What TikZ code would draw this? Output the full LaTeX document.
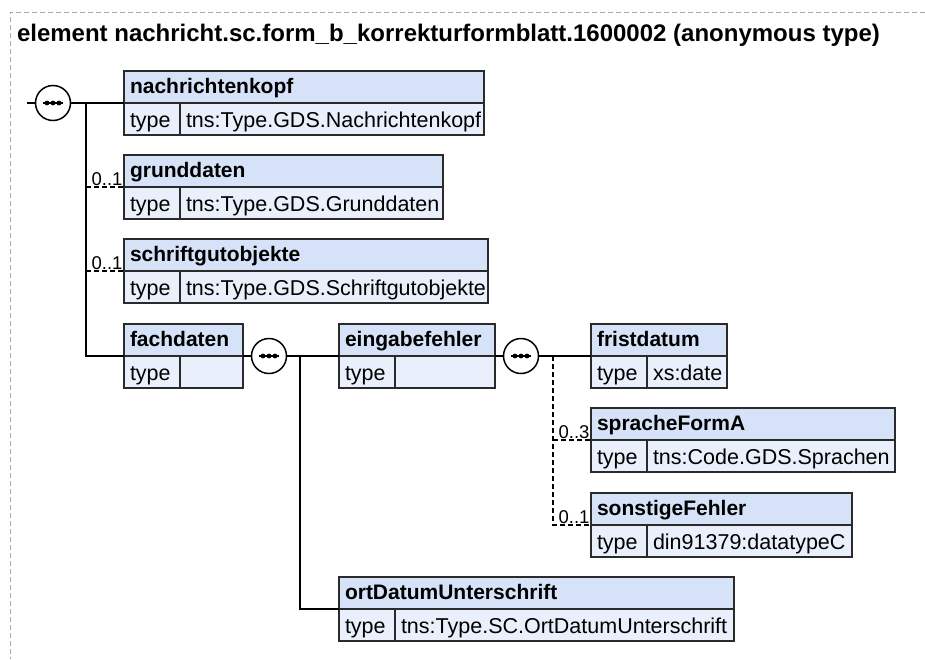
\documentclass[tikz,border=0pt]{standalone}
\usepackage{fontspec}
\setmainfont{Liberation Sans}
\usetikzlibrary{positioning}
\definecolor{hdrfill}{HTML}{D6E2F7}
\definecolor{rowfill}{HTML}{EAF0FB}
\definecolor{boxline}{HTML}{2A2A2A}

\begin{document}
\begin{tikzpicture}[x=1pt, y=-1pt, every node/.style={font=\fontsize{21.5}{25}\selectfont, outer sep=0pt},
	hdr/.style={draw=boxline, fill=hdrfill, line width=1.5pt, font=\fontsize{21}{25}\selectfont\bfseries, minimum height=32pt, inner xsep=6pt, inner ysep=0pt, align=left, text height=15pt, text depth=2pt, anchor=north west},
	cell/.style={hdr, fill=rowfill, font=\fontsize{21.5}{25}\selectfont, text height=16.5pt, text depth=0.5pt},
	seq/.style={circle, draw=black, fill=white, line width=1.5pt, minimum size=35pt, inner sep=0pt},
	conn/.style={line width=1.5pt, draw=black},
	opt/.style={conn, dash pattern=on 5pt off 3pt},
	card/.style={font=\fontsize{18.5}{20}\selectfont, inner xsep=1.5pt, inner ysep=1pt, anchor=south east}]
	\useasboundingbox (0,0) rectangle (925,659);
	\draw[gray!70, line width=1pt, dash pattern=on 5pt off 3pt] (925,12) -- (10,12) -- (10,659);
	\node[font=\fontsize{24}{28}\selectfont\bfseries, inner sep=0pt, anchor=west] (title) at (17,35) {element nachricht.sc.form\_b\_korrekturformblatt.1600002 (anonymous type)};
	% element boxes: name / left / top / width / title / type
	\foreach \el/\px/\py/\bw/\ttl/\typ in {
		nachrichtenkopf/124/71/360/nachrichtenkopf/tns:Type.GDS.Nachrichtenkopf,
		grunddaten/124/155/319/grunddaten/tns:Type.GDS.Grunddaten,
		schriftgutobjekte/124/239/364/schriftgutobjekte/tns:Type.GDS.Schriftgutobjekte,
		fachdaten/124/324/119/fachdaten/{},
		eingabefehler/339/324/156/eingabefehler/{},
		fristdatum/591/324/136/fristdatum/xs:date,
		spracheFormA/591/408/304/spracheFormA/tns:Code.GDS.Sprachen,
		sonstigeFehler/591/493/261/sonstigeFehler/din91379:datatypeC,
		ortDatumUnterschrift/339/577/395/ortDatumUnterschrift/tns:Type.SC.OrtDatumUnterschrift} {
		\pgfmathsetmacro\tw{\bw-12}
		\pgfmathsetmacro\vw{\bw-68}
		\node[hdr, text width=\tw pt] (\el) at (\px,\py) {\ttl};
		\node[cell, text width=44pt] (\el-k) at (\el.south west) {type};
		\node[cell, text width=\vw pt] (\el-v) at (\el-k.north east) {\typ};
	}
	% compositors
	\node[seq] (seq0) at (53,103) {};
	\node[seq] (seq1) at (269,356) {};
	\node[seq] (seq2) at (521,356) {};
	\foreach \s in {seq0,seq1,seq2} {
		\draw[conn] ([xshift=-10pt]\s.center) -- ([xshift=10pt]\s.center);
		\foreach \k in {-6,0,6} {\fill ([xshift=\k pt]\s.center) circle (2.4pt);}
	}
	\coordinate (in0) at (27,103);
	\coordinate (j0) at (86,103);
	\coordinate (j1) at (300,356);
	\coordinate (j2) at (553,356);
	\draw[conn] (in0) -- (seq0.west);
	\draw[conn] (seq0.east) -- (nachrichtenkopf.south west);
	\draw[conn] (j0) |- (fachdaten.south west);
	\draw[opt] (j0 |- grunddaten.south west) -- (grunddaten.south west);
	\draw[opt] (j0 |- schriftgutobjekte.south west) -- (schriftgutobjekte.south west);
	\draw[conn] (fachdaten.south east) -- (seq1.west);
	\draw[conn] (seq1.east) -- (eingabefehler.south west);
	\draw[conn] (j1) |- (ortDatumUnterschrift.south west);
	\draw[conn] (eingabefehler.south east) -- (seq2.west);
	\draw[conn] (seq2.east) -- (fristdatum.south west);
	\draw[opt] (j2) |- (sonstigeFehler.south west);
	\draw[opt] (j2 |- spracheFormA.south west) -- (spracheFormA.south west);
	% cardinalities
	\node[card] (c-grund) at (grunddaten.south west) {0..1};
	\node[card] (c-schrift) at (schriftgutobjekte.south west) {0..1};
	\node[card] (c-sprache) at (spracheFormA.south west) {0..3};
	\node[card] (c-sonst) at (sonstigeFehler.south west) {0..1};
\end{tikzpicture}
\end{document}
